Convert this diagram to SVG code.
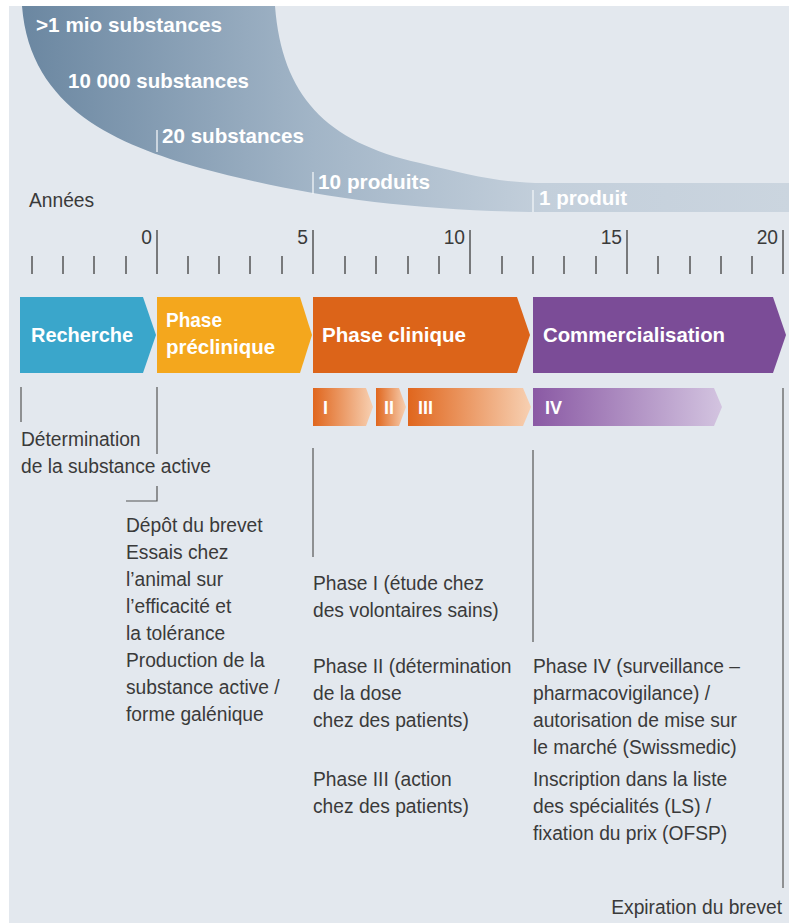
<svg xmlns="http://www.w3.org/2000/svg" width="789" height="923" viewBox="0 0 789 923">
<defs>
<linearGradient id="gFunnel" x1="22" y1="0" x2="789" y2="0" gradientUnits="userSpaceOnUse">
<stop offset="0" stop-color="#6b87a1"/>
<stop offset="0.38" stop-color="#a2b5c7"/>
<stop offset="0.68" stop-color="#c3cfdb"/>
<stop offset="1" stop-color="#cbd5df"/>
</linearGradient>
<linearGradient id="gOr" x1="0" y1="0" x2="1" y2="0">
<stop offset="0" stop-color="#e0661d"/>
<stop offset="1" stop-color="#f7d0b2"/>
</linearGradient>
<linearGradient id="gPu" x1="0" y1="0" x2="1" y2="0">
<stop offset="0" stop-color="#8a59a4"/>
<stop offset="1" stop-color="#d3c4e0"/>
</linearGradient>
<style>
.b{font-family:"Liberation Sans",Arial,sans-serif;font-weight:bold;fill:#ffffff}
.t{font-family:"Liberation Sans",Arial,sans-serif;font-size:21px;fill:#3a3a3a}
.ln{stroke:#555555;stroke-width:1.2;fill:none}
.tk{stroke:#555555;stroke-width:1.5;fill:none}
.wt{stroke:#f2f5f8;stroke-width:1.3;fill:none}
</style>
</defs>
<rect x="0" y="0" width="789" height="923" fill="#ffffff"/>
<rect x="9" y="6" width="780" height="917" fill="#e3e8ee"/>

<g id="funnel">
<path d="M22,6 L275,6 C282,95 325,142 420,163 C470,175 500,183 545,183 L789,183 L789,212 L530,212 C400,210 300,195 200,168 C120,145 30,110 22,6 Z" fill="url(#gFunnel)"/>
<line class="wt" x1="157" y1="130" x2="157" y2="152"/>
<line class="wt" x1="313" y1="172" x2="313" y2="194"/>
<line class="wt" x1="533" y1="190" x2="533" y2="212"/>
<text class="b" x="36" y="32" font-size="21" textLength="186" lengthAdjust="spacingAndGlyphs">&gt;1 mio substances</text>
<text class="b" x="68" y="88" font-size="21" textLength="181" lengthAdjust="spacingAndGlyphs">10 000 substances</text>
<text class="b" x="162" y="143" font-size="21" textLength="142" lengthAdjust="spacingAndGlyphs">20 substances</text>
<text class="b" x="318" y="189" font-size="21" textLength="112" lengthAdjust="spacingAndGlyphs">10 produits</text>
<text class="b" x="539" y="205" font-size="21" textLength="88" lengthAdjust="spacingAndGlyphs">1 produit</text>
</g>

<g id="axis">
<g transform="translate(29,207) scale(0.915,1)"><text class="t" x="0" y="0">Années</text></g>
<g class="tk">
<line x1="157" y1="230" x2="157" y2="274"/>
<line x1="313" y1="230" x2="313" y2="274"/>
<line x1="470" y1="230" x2="470" y2="274"/>
<line x1="627" y1="230" x2="627" y2="274"/>
<line x1="783" y1="230" x2="783" y2="274"/>
<line x1="32" y1="256" x2="32" y2="274"/>
<line x1="63" y1="256" x2="63" y2="274"/>
<line x1="94" y1="256" x2="94" y2="274"/>
<line x1="126" y1="256" x2="126" y2="274"/>
<line x1="188" y1="256" x2="188" y2="274"/>
<line x1="219" y1="256" x2="219" y2="274"/>
<line x1="250" y1="256" x2="250" y2="274"/>
<line x1="282" y1="256" x2="282" y2="274"/>
<line x1="345" y1="256" x2="345" y2="274"/>
<line x1="376" y1="256" x2="376" y2="274"/>
<line x1="408" y1="256" x2="408" y2="274"/>
<line x1="439" y1="256" x2="439" y2="274"/>
<line x1="502" y1="256" x2="502" y2="274"/>
<line x1="533" y1="256" x2="533" y2="274"/>
<line x1="564" y1="256" x2="564" y2="274"/>
<line x1="596" y1="256" x2="596" y2="274"/>
<line x1="658" y1="256" x2="658" y2="274"/>
<line x1="690" y1="256" x2="690" y2="274"/>
<line x1="721" y1="256" x2="721" y2="274"/>
<line x1="752" y1="256" x2="752" y2="274"/>
</g>
<g transform="translate(152,244) scale(0.915,1)"><text class="t" x="0" y="0" text-anchor="end">0</text></g>
<g transform="translate(308,244) scale(0.915,1)"><text class="t" x="0" y="0" text-anchor="end">5</text></g>
<g transform="translate(465,244) scale(0.915,1)"><text class="t" x="0" y="0" text-anchor="end">10</text></g>
<g transform="translate(622,244) scale(0.915,1)"><text class="t" x="0" y="0" text-anchor="end">15</text></g>
<g transform="translate(778,244) scale(0.915,1)"><text class="t" x="0" y="0" text-anchor="end">20</text></g>
</g>

<g id="recherche">
<polygon points="20,297 143,297 156,335 143,373 20,373" fill="#3aa6cb"/>
<text class="b" x="31" y="342" font-size="21" textLength="102" lengthAdjust="spacingAndGlyphs">Recherche</text>
</g>
<g id="preclinique">
<polygon points="157,297 300,297 312,335 300,373 157,373" fill="#f4a71d"/>
<text class="b" x="166" y="327" font-size="21" textLength="56" lengthAdjust="spacingAndGlyphs">Phase</text>
<text class="b" x="166" y="354" font-size="21" textLength="109" lengthAdjust="spacingAndGlyphs">préclinique</text>
</g>
<g id="clinique">
<polygon points="313,297 517,297 530,335 517,373 313,373" fill="#dc6419"/>
<text class="b" x="322" y="342" font-size="21" textLength="144" lengthAdjust="spacingAndGlyphs">Phase clinique</text>
</g>
<g id="commercialisation">
<polygon points="533,297 773,297 786,335 773,373 533,373" fill="#7b4c97"/>
<text class="b" x="543" y="342" font-size="21" textLength="182" lengthAdjust="spacingAndGlyphs">Commercialisation</text>
</g>

<g id="phase-I">
<polygon points="313,388 366,388 373,407 366,426 313,426" fill="url(#gOr)"/>
<text class="b" x="323" y="414" font-size="18">I</text>
</g>
<g id="phase-II">
<polygon points="376,388 399,388 406,407 399,426 376,426" fill="url(#gOr)"/>
<text class="b" x="384" y="414" font-size="18">II</text>
</g>
<g id="phase-III">
<polygon points="408,388 523,388 531,407 523,426 408,426" fill="url(#gOr)"/>
<text class="b" x="418" y="414" font-size="18">III</text>
</g>
<g id="phase-IV">
<polygon points="533,388 714,388 722,407 714,426 533,426" fill="url(#gPu)"/>
<text class="b" x="545" y="414" font-size="18">IV</text>
</g>

<g id="connectors" class="ln">
<line x1="21" y1="387" x2="21" y2="422"/>
<line x1="157" y1="387" x2="157" y2="454"/>
<polyline points="157,486 157,501 126,501"/>
<line x1="313" y1="448" x2="313" y2="557"/>
<line x1="533" y1="450" x2="533" y2="642"/>
<line x1="783" y1="388" x2="783" y2="888"/>
</g>

<g id="label-determination" transform="translate(21,0) scale(0.915,1)">
<text class="t" x="0" y="446">Détermination</text>
<text class="t" x="0" y="473">de la substance active</text>
</g>
<g id="label-preclinique" transform="translate(126,0) scale(0.915,1)">
<text class="t" x="0" y="532">Dépôt du brevet</text>
<text class="t" x="0" y="559">Essais chez</text>
<text class="t" x="0" y="586">l’animal sur</text>
<text class="t" x="0" y="613">l’efficacité et</text>
<text class="t" x="0" y="640">la tolérance</text>
<text class="t" x="0" y="667">Production de la</text>
<text class="t" x="0" y="694">substance active /</text>
<text class="t" x="0" y="721">forme galénique</text>
</g>
<g id="label-clinique" transform="translate(313,0) scale(0.915,1)">
<text class="t" x="0" y="590">Phase I (étude chez</text>
<text class="t" x="0" y="617">des volontaires sains)</text>
<text class="t" x="0" y="673">Phase II (détermination</text>
<text class="t" x="0" y="700">de la dose</text>
<text class="t" x="0" y="727">chez des patients)</text>
<text class="t" x="0" y="786">Phase III (action</text>
<text class="t" x="0" y="813">chez des patients)</text>
</g>
<g id="label-commercialisation" transform="translate(533,0) scale(0.915,1)">
<text class="t" x="0" y="673">Phase IV (surveillance –</text>
<text class="t" x="0" y="700">pharmacovigilance) /</text>
<text class="t" x="0" y="727">autorisation de mise sur</text>
<text class="t" x="0" y="754">le marché (Swissmedic)</text>
<text class="t" x="0" y="786">Inscription dans la liste</text>
<text class="t" x="0" y="813">des spécialités (LS) /</text>
<text class="t" x="0" y="840">fixation du prix (OFSP)</text>
</g>
<g id="label-expiration" transform="translate(782,0) scale(0.915,1)">
<text class="t" x="0" y="914" text-anchor="end">Expiration du brevet</text>
</g>
</svg>
